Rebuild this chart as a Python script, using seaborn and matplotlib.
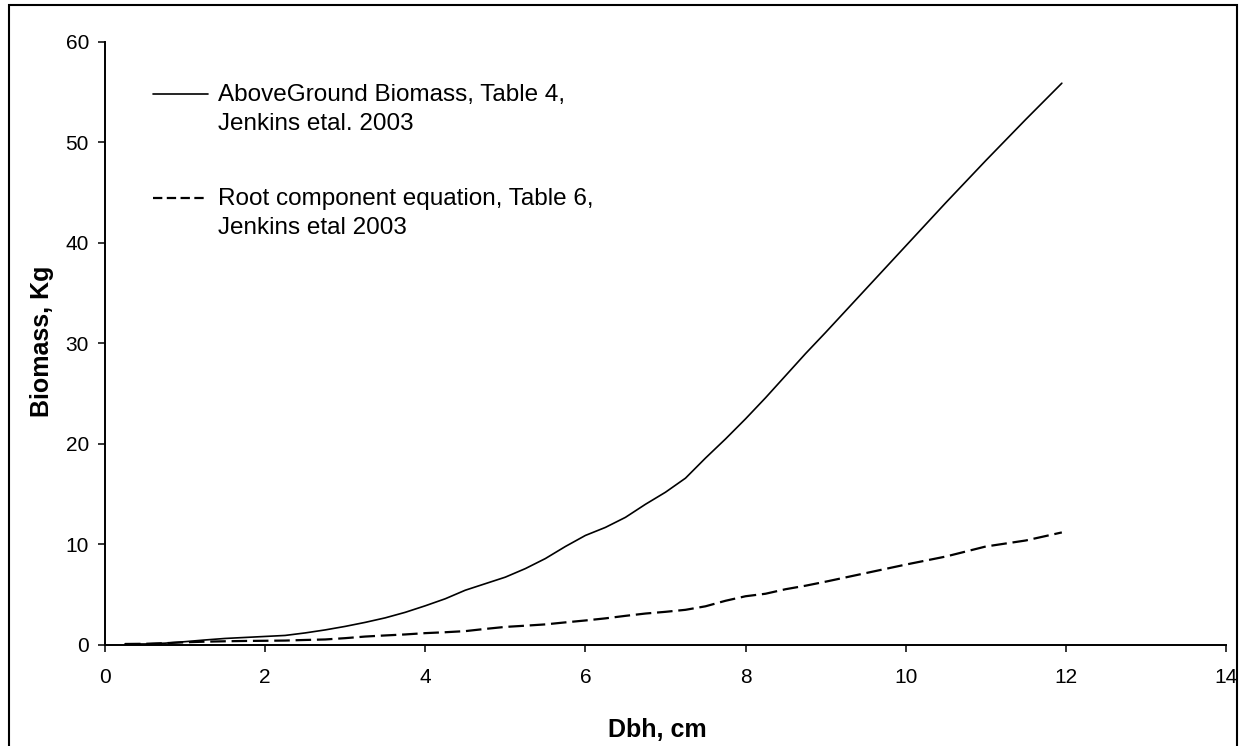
import matplotlib
matplotlib.use("Agg")
import matplotlib.pyplot as plt
from matplotlib.patches import Rectangle
import seaborn as sns

# Diameter at breast height (cm)
dbh_cm = [0.25, 0.5, 0.75, 1.0, 1.25, 1.5, 1.75, 2.0, 2.25, 2.5, 2.75, 3.0, 3.25, 3.5,
          3.75, 4.0, 4.25, 4.5, 4.75, 5.0, 5.25, 5.5, 5.75, 6.0, 6.25, 6.5, 6.75, 7.0,
          7.25, 7.5, 7.75, 8.0, 8.25, 8.5, 8.75, 9.0, 9.5, 10.0, 10.5, 11.0, 11.5, 11.95]

# Aboveground biomass (kg), Jenkins et al. 2003, Table 4
aboveground_kg = [0.1, 0.1, 0.18, 0.33, 0.5, 0.65, 0.75, 0.85, 0.95, 1.2, 1.5, 1.85, 2.25, 2.7,
                  3.25, 3.9, 4.6, 5.45, 6.1, 6.75, 7.6, 8.6, 9.8, 10.9, 11.7, 12.7, 14.0, 15.2,
                  16.6, 18.6, 20.5, 22.5, 24.6, 26.8, 29.0, 31.1, 35.4, 39.7, 44.0, 48.2, 52.3, 55.9]

# Root component (kg), Jenkins et al. 2003, Table 6
root_kg = [0.1, 0.12, 0.18, 0.27, 0.33, 0.37, 0.4, 0.42, 0.44, 0.5, 0.55, 0.68, 0.84, 0.95,
           1.05, 1.18, 1.27, 1.38, 1.6, 1.8, 1.92, 2.05, 2.25, 2.44, 2.65, 2.9, 3.13, 3.3,
           3.5, 3.85, 4.4, 4.85, 5.1, 5.55, 5.9, 6.3, 7.15, 8.0, 8.8, 9.8, 10.4, 11.2]

series_labels = ["AboveGround Biomass, Table 4,\nJenkins etal. 2003",
                 "Root component equation, Table 6,\nJenkins etal 2003"]
x_ticks = [0, 2, 4, 6, 8, 10, 12, 14]
y_ticks = [0, 10, 20, 30, 40, 50, 60]

sns.set_style("ticks")
plt.rcParams["font.family"] = ["Liberation Sans", "DejaVu Sans"]
plt.rcParams["text.color"] = "black"

fig = plt.figure(figsize=(12.39, 7.46), dpi=100)
ax = fig.add_axes([0.0847, 0.1354, 0.9048, 0.8083])

sns.lineplot(x=dbh_cm, y=aboveground_kg, color="black", linewidth=1.2,
             label=series_labels[0], sort=False, estimator=None, ax=ax)
sns.lineplot(x=dbh_cm, y=root_kg, color="black", linewidth=1.6,
             linestyle=(0, (7, 2.6)), label=series_labels[1],
             sort=False, estimator=None, ax=ax)

ax.set_xlim(x_ticks[0], x_ticks[-1])
ax.set_ylim(y_ticks[0], y_ticks[-1])
ax.set_xticks(x_ticks)
ax.set_yticks(y_ticks)
sns.despine(ax=ax)
for side in ("left", "bottom"):
    ax.spines[side].set_color("black")
    ax.spines[side].set_linewidth(1.4)

ax.tick_params(direction="out", length=5, width=1.1, labelsize=15,
               color="black", labelcolor="black")
ax.tick_params(axis="x", pad=11.5)
ax.tick_params(axis="y", pad=6.5)

ax.set_xlabel("Dbh, cm", fontsize=18, fontweight="bold", color="black")
ax.set_ylabel("Biomass, Kg", fontsize=18, fontweight="bold", color="black")
ax.xaxis.set_label_coords(0.4924, -0.1211)
ax.yaxis.set_label_coords(-0.045, 0.504)

leg = ax.legend(loc="upper left", bbox_to_anchor=(0.0428, 0.9304), frameon=False,
                fontsize=17.5, borderpad=0, borderaxespad=0, handlelength=2.25,
                handleheight=1.0, handletextpad=0.42, labelspacing=2.2)
for txt in leg.get_texts():
    txt.set_linespacing(1.39)
leg.get_lines()[1].set_dashes((4.2, 2.0))
# put each legend key beside the first line of its two-line label
for column in leg._legend_handle_box.get_children():
    for item in column.get_children():
        item.align = "top"

# frame around the whole chart
fig.add_artist(Rectangle((9 / 1239, -0.02), (1237 - 9) / 1239, 1 - 5 / 746 + 0.02,
                         transform=fig.transFigure, fill=False, lw=1.5,
                         ec="black", zorder=10))

fig.savefig("out.png", dpi=100)
